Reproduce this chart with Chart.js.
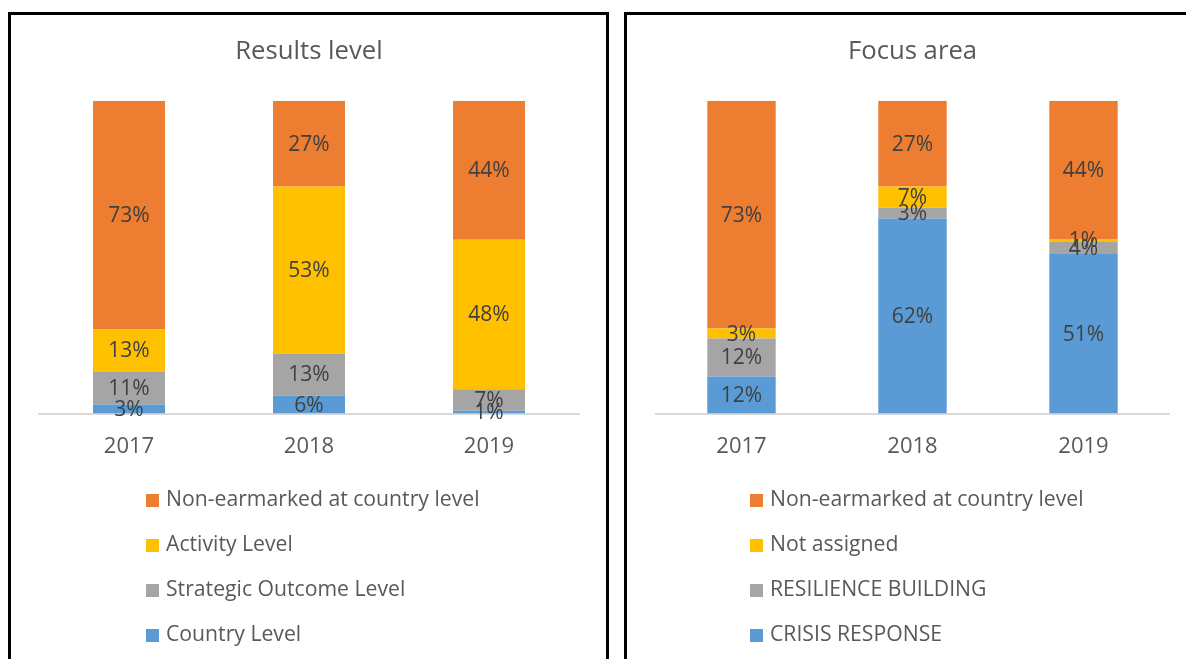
<!DOCTYPE html>
<html>
<head>
<meta charset="utf-8">
<script src="https://cdn.jsdelivr.net/npm/chart.js@4"></script>
<style>
  html, body { margin: 0; padding: 0; background: #fff; overflow: hidden; width: 1186px; height: 659px; }
  .panel { position: absolute; top: 12px; height: 700px; border: 3px solid #000; box-sizing: border-box; }
  .chartBox { position: absolute; top: 0; left: 0; height: 463px; }
  .legend { position: absolute; top: 460px; font-family: "Open Sans", sans-serif; font-size: 21.2px; color: #595959; }
  .legend div { height: 45px; line-height: 45px; white-space: nowrap; }
  .legend span { display: inline-block; width: 13px; height: 13px; margin-right: 7px; vertical-align: -1px; }
</style>
</head>
<body>
<div class="panel" id="leftPanel" style="left:8px; width:601px;">
  <div class="chartBox" style="width:594px;"><canvas id="resultsChart"></canvas></div>
  <div class="legend" id="resultsLegend" style="left:135px;"></div>
</div>
<div class="panel" id="rightPanel" style="left:624px; width:580px;">
  <div class="chartBox" style="width:571px;"><canvas id="focusChart"></canvas></div>
  <div class="legend" id="focusLegend" style="left:123px;"></div>
</div>
<script>
const years = ['2017', '2018', '2019'];

// Results level (%)
const resultsCountry = [2.9, 5.8, 0.9];
const resultsStrategic = [10.6, 13.4, 6.9];
const resultsActivity = [13.4, 53.4, 47.8];
const resultsNonEarmarked = [73.1, 27.4, 44.4];

// Focus area (%)
const focusCrisis = [11.9, 62.4, 51.0];
const focusResilience = [12.1, 3.4, 3.9];
const focusNotAssigned = [3.2, 6.8, 0.9];
const focusNonEarmarked = [72.8, 27.4, 44.2];

const ORANGE = '#ED7D31';
const YELLOW = '#FFC000';
const GRAY = '#A5A5A5';
const BLUE = '#5B9BD5';

const FONT = '"Open Sans", sans-serif';

// draws the % value in the middle of each bar segment
const segmentLabels = {
    id: 'segmentLabels',
    afterDatasetsDraw(chart) {
        const ctx = chart.ctx;
        ctx.save();
        ctx.font = '21px ' + FONT;
        ctx.fillStyle = '#404040';
        ctx.textAlign = 'center';
        ctx.textBaseline = 'middle';
        chart.data.datasets.forEach((ds, i) => {
            const meta = chart.getDatasetMeta(i);
            meta.data.forEach((bar, j) => {
                const p = bar.getCenterPoint();
                ctx.fillText(Math.round(ds.data[j]) + '%', p.x, p.y + 1);
            });
        });
        ctx.restore();
    }
};

function makeChart(canvasId, legendId, title, datasets, pad) {
    const ctx = document.getElementById(canvasId).getContext('2d');
    const chart = new Chart(ctx, {
        type: 'bar',
        data: {
            labels: years,
            datasets: datasets.map(d => ({
                label: d.label,
                data: d.data,
                backgroundColor: d.color,
                borderWidth: 0,
                barPercentage: 0.4,
                categoryPercentage: 1
            }))
        },
        options: {
            responsive: true,
            maintainAspectRatio: false,
            animation: false,
            layout: { padding: { left: pad.left, right: pad.right, top: 0, bottom: 6 } },
            plugins: {
                legend: { display: false },
                tooltip: { enabled: false },
                title: {
                    display: true,
                    text: title,
                    color: '#595959',
                    font: { family: FONT, size: 25.7, weight: 'normal' },
                    padding: { top: 21, bottom: 34 }
                }
            },
            scales: {
                x: {
                    stacked: true,
                    grid: { display: false },
                    border: { color: '#D9D9D9', width: 2 },
                    ticks: { color: '#595959', font: { family: FONT, size: 22 }, padding: 12 }
                },
                y: {
                    stacked: true,
                    display: false,
                    min: 0,
                    max: 100
                }
            }
        },
        plugins: [segmentLabels]
    });

    // legend listed top-down in reverse stack order
    const legend = document.getElementById(legendId);
    chart.data.datasets.slice().reverse().forEach(ds => {
        const row = document.createElement('div');
        const box = document.createElement('span');
        box.style.background = ds.backgroundColor;
        row.appendChild(box);
        row.appendChild(document.createTextNode(ds.label));
        legend.appendChild(row);
    });
    return chart;
}

makeChart('resultsChart', 'resultsLegend', 'Results level', [
    { label: 'Country Level', data: resultsCountry, color: BLUE },
    { label: 'Strategic Outcome Level', data: resultsStrategic, color: GRAY },
    { label: 'Activity Level', data: resultsActivity, color: YELLOW },
    { label: 'Non-earmarked at country level', data: resultsNonEarmarked, color: ORANGE }
], { left: 28, right: 26 });

makeChart('focusChart', 'focusLegend', 'Focus area', [
    { label: 'CRISIS RESPONSE', data: focusCrisis, color: BLUE },
    { label: 'RESILIENCE BUILDING', data: focusResilience, color: GRAY },
    { label: 'Not assigned', data: focusNotAssigned, color: YELLOW },
    { label: 'Non-earmarked at country level', data: focusNonEarmarked, color: ORANGE }
], { left: 29, right: 29 });
</script>
</body>
</html>
